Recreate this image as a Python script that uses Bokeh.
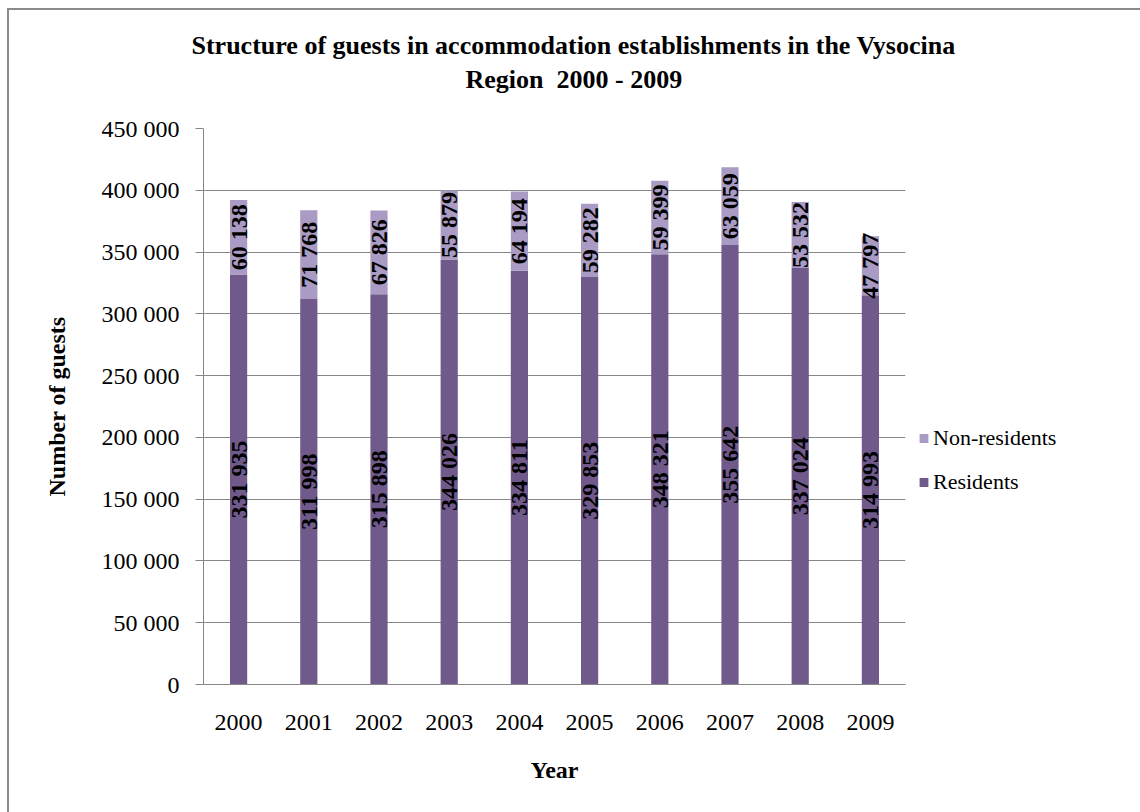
import math
from bokeh.plotting import figure
from bokeh.models import (Range1d, FactorRange, Legend, LegendItem, Title,
                          FixedTicker, ColumnDataSource)
from bokeh.core.properties import value
from bokeh.embed import file_html
from bokeh.resources import INLINE

# ---- data ----
years = ["2000", "2001", "2002", "2003", "2004", "2005", "2006", "2007", "2008", "2009"]
residents = [331935, 311998, 315898, 344026, 334811, 329853, 348321, 355642, 337024, 314993]
non_residents = [60138, 71768, 67826, 55879, 64194, 59282, 59399, 63059, 53532, 47797]
y_ticks = [0, 50000, 100000, 150000, 200000, 250000, 300000, 350000, 400000, 450000]
y_tick_labels = ["0", "50 000", "100 000", "150 000", "200 000", "250 000",
                 "300 000", "350 000", "400 000", "450 000"]
series_names = ["Residents", "Non-residents"]
title_line1 = "Structure of guests in accommodation establishments in the Vysocina"
title_line2 = "Region \u00a02000 - 2009"
x_label = "Year"
y_label = "Number of guests"

FONT = "Liberation Serif"
C_RES = "#705A8C"
C_NON = "#A99BC3"
GRID = "#878787"


def fmt(v):
    return f"{v:,}".replace(",", " ")


src = ColumnDataSource(dict(
    year=years,
    res=residents,
    non=non_residents,
    total=[r + n for r, n in zip(residents, non_residents)],
    res_mid=[r / 2 for r in residents],
    non_mid=[r + n / 2 for r, n in zip(residents, non_residents)],
    res_lab=[fmt(v) for v in residents],
    non_lab=[fmt(v) for v in non_residents],
))

p = figure(
    frame_width=702, frame_height=556,
    x_range=FactorRange(*years, range_padding=0),
    y_range=Range1d(0, 450000),
    output_backend="svg", toolbar_location=None,
    min_border_left=194, min_border_right=235,
    min_border_top=118, min_border_bottom=128,
)
p.title = None
p.styles = {"border-top": "2px solid #8a8a8a", "border-left": "2px solid #8a8a8a",
            "margin-left": "7px", "margin-top": "8px"}
p.outline_line_color = None
p.background_fill_color = "white"
p.border_fill_color = "white"

r_res = p.vbar(x="year", bottom=0, top="res", width=0.245, source=src,
               fill_color=C_RES, line_color=None)
r_non = p.vbar(x="year", bottom="res", top="total", width=0.245, source=src,
               fill_color=C_NON, line_color=None)

p.text(x="year", y="res_mid", text="res_lab", source=src, angle=math.pi / 2,
       text_align="center", text_baseline="middle", text_color="black",
       text_font=value(FONT), text_font_size="24px", text_font_style="bold")
p.text(x="year", y="non_mid", text="non_lab", source=src, angle=math.pi / 2,
       text_align="center", text_baseline="middle", text_color="black",
       text_font=value(FONT), text_font_size="24px", text_font_style="bold")

# axes
p.yaxis.ticker = FixedTicker(ticks=y_ticks)
p.yaxis.major_label_overrides = dict(zip(y_ticks, y_tick_labels))
p.yaxis.major_tick_out = 8
p.yaxis.major_tick_in = 0
p.yaxis.minor_tick_line_color = None
p.yaxis.major_label_standoff = 16
p.yaxis.axis_line_color = GRID
p.yaxis.major_tick_line_color = GRID
p.yaxis.major_label_text_font = FONT
p.yaxis.major_label_text_font_size = "24px"
p.yaxis.major_label_text_color = "black"
p.yaxis.axis_label = y_label
p.yaxis.axis_label_text_font = FONT
p.yaxis.axis_label_text_font_size = "24px"
p.yaxis.axis_label_text_font_style = "bold"
p.yaxis.axis_label_text_color = "black"
p.yaxis.axis_label_standoff = 29

p.xaxis.major_tick_line_color = None
p.xaxis.major_tick_out = 0
p.xaxis.major_tick_in = 0
p.xaxis.axis_line_color = GRID
p.xaxis.major_label_standoff = 30
p.xaxis.major_label_text_font = FONT
p.xaxis.major_label_text_font_size = "24px"
p.xaxis.major_label_text_color = "black"
p.xaxis.axis_label = x_label
p.xaxis.axis_label_text_font = FONT
p.xaxis.axis_label_text_font_size = "24px"
p.xaxis.axis_label_text_font_style = "bold"
p.xaxis.axis_label_text_color = "black"
p.xaxis.axis_label_standoff = 24

p.xgrid.grid_line_color = None
p.ygrid.ticker = FixedTicker(ticks=y_ticks)
p.ygrid.grid_line_color = GRID
p.ygrid.grid_line_width = 1

# titles (second line gets a trailing blank line to leave room above the frame)
t2 = Title(text=title_line2 + "\n", align="left", text_font=FONT, text_font_size="26px",
           text_font_style="bold", text_color="black", offset=262, standoff=8,
           vertical_align="top")
t1 = Title(text=title_line1, align="left", text_font=FONT, text_font_size="26px",
           text_font_style="bold", text_color="black", offset=-12, standoff=2)
p.add_layout(t2, "above")
p.add_layout(t1, "above")

legend = Legend(items=[LegendItem(label=series_names[1], renderers=[r_non]),
                       LegendItem(label=series_names[0], renderers=[r_res])],
                location="center_left", orientation="vertical",
                title=" ", title_text_font_size="1px", title_standoff=106,
                label_text_font=FONT, label_text_font_size="22px",
                label_text_color="black", glyph_width=11, glyph_height=11,
                label_standoff=4, spacing=18, padding=0, margin=13,
                border_line_color=None, background_fill_alpha=0)
p.add_layout(legend, "right")

open("out.html", "w").write(file_html(p, INLINE))
